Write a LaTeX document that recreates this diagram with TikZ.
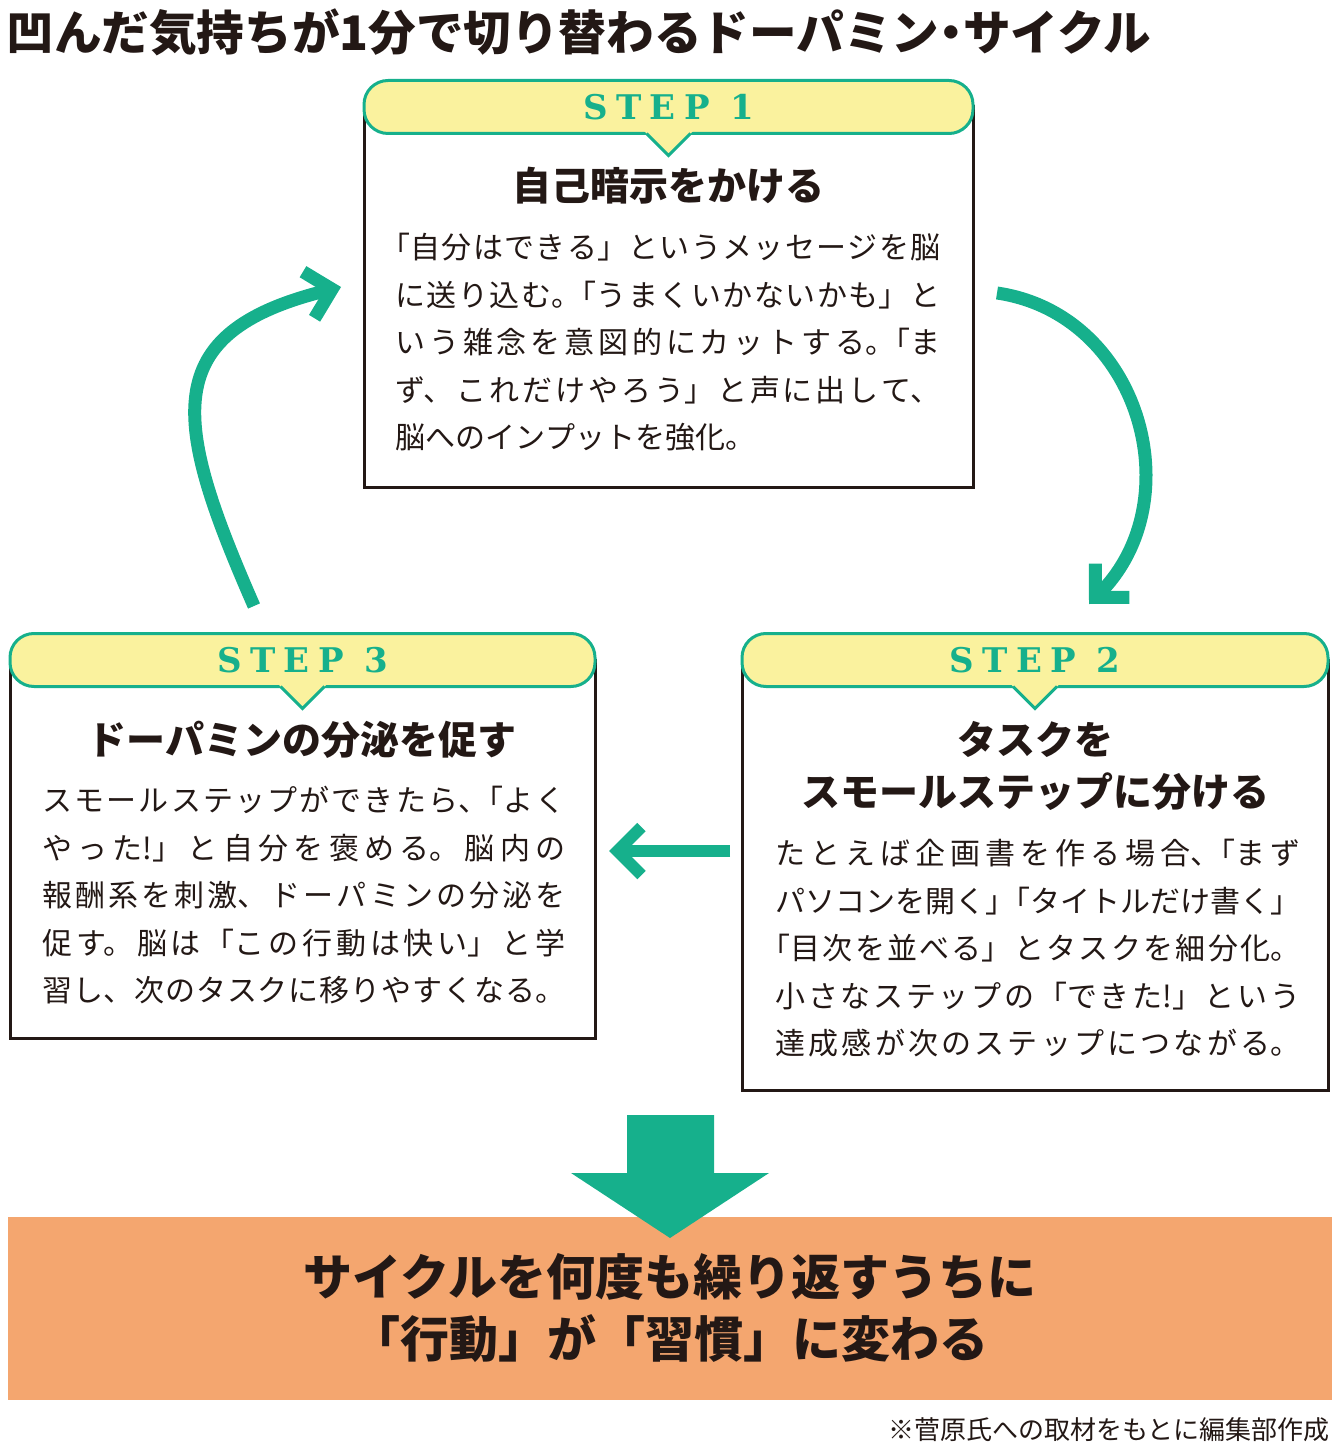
\documentclass[tikz,border=0pt]{standalone}
\usepackage{fontspec}
\setmainfont{Noto Sans CJK JP}
\newfontfamily\stepfont[LetterSpace=25]{DejaVu Serif}
\usetikzlibrary{arrows.meta,calc}
\definecolor{cyclegreen}{RGB}{22,176,140}
\definecolor{headyellow}{RGB}{250,242,158}
\definecolor{resultorange}{RGB}{244,166,111}
\definecolor{inkblack}{RGB}{35,24,21}
\XeTeXlinebreaklocale "ja"
\XeTeXlinebreakskip=0pt plus 1fil minus 0.5pt

\begin{document}
\begin{tikzpicture}[x=0.5pt, y=-0.5pt, inkblack,
	stepbox/.style={draw=inkblack, fill=white, line width=1.5pt, inner sep=0pt, outer sep=0pt},
	stephead/.style={draw=cyclegreen, fill=headyellow, line width=1.5pt, rounded corners=12pt, minimum height=26.5pt, inner sep=0pt, outer sep=0pt, text=cyclegreen, font=\stepfont\bfseries\fontsize{17}{17}\selectfont},
	steptitle/.style={font=\bfseries\fontsize{19.5}{26}\selectfont, align=center, inner sep=0pt},
	stepbody/.style={font=\fontsize{15}{23.75}\selectfont, align=justify, inner sep=0pt, anchor=north west},
	flow/.style={draw=cyclegreen, line width=6.5pt, -{Straight Barb[length=12pt, width=24pt, line join=miter]}}]
	\useasboundingbox (0,0) rectangle (1340,1454);
	
	\node[anchor=west, inner sep=0pt, font=\bfseries\fontsize{23.8}{23.8}\selectfont](title) at (6,32){凹んだ気持ちが1分で切り替わるドーパミン\kern-.25em・\kern-.25emサイクル};
	
	\node[stepbox, minimum width=304.5pt, minimum height=190pt](box1) at (668.5,297){};
	\node[stepbox, minimum width=293pt, minimum height=215pt](box2) at (1035,875){};
	\node[stepbox, minimum width=292.5pt, minimum height=189pt](box3) at (302.5,849){};
	
	\node[stephead, minimum width=304.5pt](h1) at (668.5,107){STEP 1};
	\node[stephead, minimum width=293pt](h2) at (1035,660){STEP 2};
	\node[stephead, minimum width=292.5pt](h3) at (302.5,660){STEP 3};
	\foreach \h in {h1,h2,h3}{
		\fill[headyellow] ($(\h.south)+(-25,-3)$) -- ($(\h.south)+(0,22)$) -- ($(\h.south)+(25,-3)$) -- cycle;
		\draw[cyclegreen, line width=1.5pt] ($(\h.south)+(-22,0)$) -- ($(\h.south)+(0,22)$) -- ($(\h.south)+(22,0)$);
	}
	
	\node[steptitle](t1) at (668,186){自己暗示をかける};
	\node[steptitle](t2) at (1035,766){タスクを\\スモールステップに分ける};
	\node[steptitle](t3) at (302,740){ドーパミンの分泌を促す};
	
	\node[stepbody, text width=272.5pt](b1) at (395,233){\noindent\hspace*{-.5em}「自分はできる」というメッセージを脳\linebreak に送り込む。\kern-.5em「うまくいかないかも」と\linebreak いう雑念を意図的にカットする。\kern-.5em「ま\linebreak ず、これだけやろう」と声に出して、\linebreak 脳へのインプットを強化。\hspace*{\fill}};
	\node[stepbody, text width=262.5pt](b2) at (775,839){\noindent たとえば企画書を作る場合、\kern-.5em「まず\linebreak パソコンを開く」\kern-.5em「タイトルだけ書く」\linebreak\hspace*{-.5em}「目次を並べる」とタスクを細分化。\linebreak 小さなステップの「できた!」という\linebreak 達成感が次のステップにつながる。\linebreak\null};
	\node[stepbody, text width=261.5pt](b3) at (42,786){\noindent スモールステップができたら、\kern-.5em「よく\linebreak やった!」と自分を褒める。脳内の\linebreak 報酬系を刺激、ドーパミンの分泌を\linebreak 促す。脳は「この行動は快い」と学\linebreak 習し、次のタスクに移りやすくなる。\linebreak\null};
	
	\coordinate (r1) at (997,293);
	\coordinate (r2) at (1089,604);
	\coordinate (l1) at (254,606);
	\coordinate (l2) at (341,287);
	\coordinate (s1) at (730,851);
	\coordinate (s2) at (609,851);
	\draw[flow] (r1) .. controls (1140,314) and (1192,500) .. (r2);
	\draw[flow] (l1) .. controls (173,421) and (156,333) .. (l2);
	\draw[flow, line width=6pt] (s1) -- (s2);
	
	\node[fill=resultorange, minimum width=662pt, minimum height=91.5pt, inner sep=0pt, align=center, font=\bfseries\fontsize{24.5}{31}\selectfont](result) at (670,1308.5){サイクルを何度も繰り返すうちに\\「行動」が「習慣」に変わる};
	\fill[cyclegreen] (627,1115) -- (714,1115) -- (714,1173) -- (769,1173) -- (670,1238) -- (571,1173) -- (627,1173) -- cycle;
	
	\node[anchor=east, inner sep=0pt, font=\fontsize{13}{13}\selectfont](note) at (1330,1430){※菅原氏への取材をもとに編集部作成};
\end{tikzpicture}
\end{document}
